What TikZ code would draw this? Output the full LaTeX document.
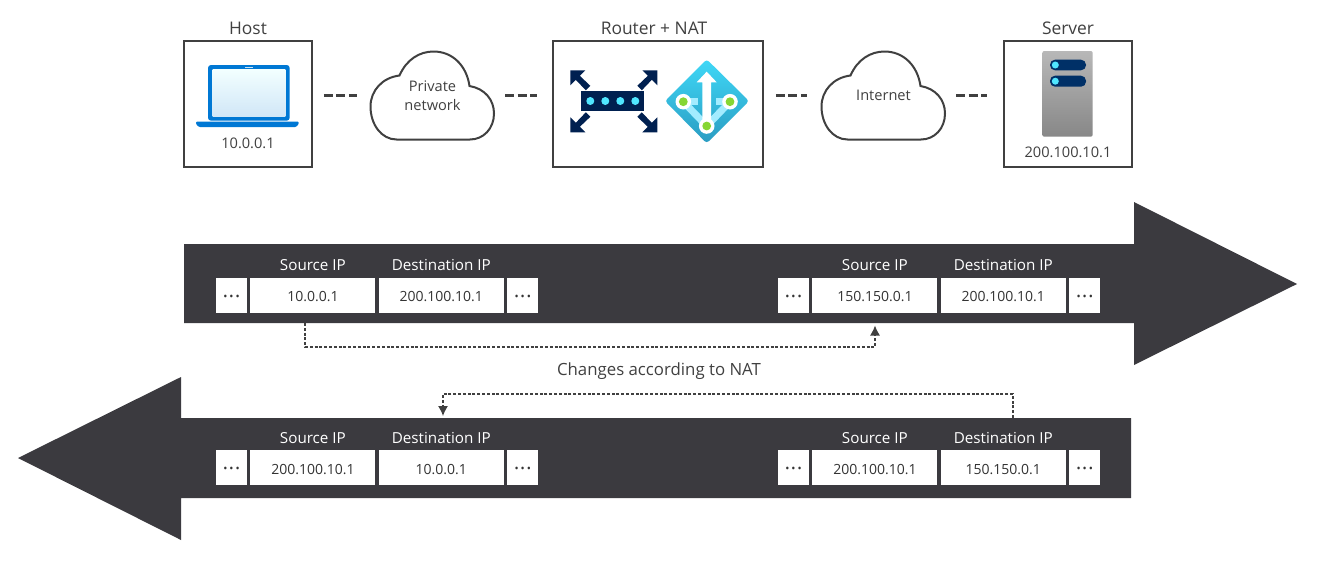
\documentclass[tikz,border=0pt]{standalone}
\usepackage{fontspec}
\setmainfont{Open Sans}
\usepackage{tikz}
\usetikzlibrary{positioning}
\usetikzlibrary{arrows.meta}

\definecolor{bandgrey}{HTML}{3B3A3F}
\definecolor{framegrey}{HTML}{404040}
\definecolor{laptopblue}{HTML}{0078D4}
\definecolor{routernavy}{HTML}{002050}
\definecolor{servernavy}{HTML}{003067}
\definecolor{portcyan}{HTML}{50E6FF}
\definecolor{natgreen}{HTML}{86D633}
\definecolor{natarm}{HTML}{A3ECFF}
\definecolor{nattop}{HTML}{3FD8F7}
\definecolor{natbottom}{HTML}{2A9CC2}

\tikzset{
    x=1pt, y=-1pt,
    every node/.style={font=\fontsize{14.6}{19}\selectfont, text=framegrey},
    device/.style={draw=framegrey, line width=1.6pt, fill=white, minimum height=126pt, inner sep=0pt},
    devicename/.style={font=\fontsize{17.4}{20}\selectfont},
    cloudspot/.style={minimum width=123pt, minimum height=88pt, inner sep=0pt, align=center},
    cell/.style={fill=white, minimum height=35pt, inner sep=0pt, text=black!80, text height=13pt, text depth=0pt, font=\fontsize{14}{19}\selectfont},
    ipcell/.style={cell, minimum width=125pt},
    dotcell/.style={cell, minimum width=31pt},
    fieldname/.style={text=white, font=\fontsize{15.2}{19}\selectfont},
    wire/.style={draw=framegrey, line width=3.5pt, dash pattern=on 9pt off 3.5pt},
    natpath/.style={draw=framegrey, line width=1.3pt, dash pattern=on 3pt off 1.8pt},
    cloudline/.pic={
        \draw[framegrey, line width=2pt, fill=white] (-33,-20) .. controls (-26,-36) and (-13,-44) .. (1,-44)
            .. controls (20,-44) and (34,-30) .. (37,-9.5)
            .. controls (52,-7) and (61.5,4) .. (61.5,18)
            .. controls (61.5,33) and (51,44) .. (37.5,44)
            -- (-36,44) .. controls (-51,44) and (-62,29) .. (-62,11)
            .. controls (-62,-5) and (-50,-18) .. (-33,-20) -- cycle;
    },
    cornerarrow/.pic={
        \fill[routernavy] (0,0) -- (15,0) -- (9.5,5.5) -- (20,15.5) -- (15.5,20) -- (5.5,9.5) -- (0,15) -- cycle;
    },
}
\newcommand{\celldots}{\raisebox{1.3pt}{\fontsize{11}{12}\selectfont •\hspace{2pt}•\hspace{2pt}•}}

\begin{document}
\begin{tikzpicture}
    \useasboundingbox (0,0) rectangle (1317,560);

    % top row
    \node(host) [device, minimum width=128pt] at (248,104) {};
    \node(router) [device, minimum width=210pt] at (658,104) {};
    \node(server) [device, minimum width=128pt] at (1068,104) {};
    \node(hostname) [devicename] at (248,28) {Host};
    \node(routername) [devicename] at (654,28) {Router + NAT};
    \node(servername) [devicename] at (1068,28) {Server};

    \pic at (432.5,95.5) {cloudline};
    \pic at (883.5,95.5) {cloudline};
    \node(privatenet) [cloudspot] at (432.5,95.5) {Private\\network};
    \node(internet) [cloudspot] at (883.5,95.5) {Internet};

    \draw[wire, shorten <=11pt, shorten >=14pt] (host.east |- privatenet) -- (privatenet.west);
    \draw[wire, shorten <=11pt, shorten >=15pt] (privatenet.east) -- (router.west |- privatenet);
    \draw[wire, shorten <=12pt, shorten >=15pt] (router.east |- internet) -- (internet.west);
    \draw[wire, shorten <=11pt, shorten >=16pt] (internet.east) -- (server.west |- internet);

    % laptop
    \fill[laptopblue, rounded corners=3pt] (208,65) rectangle (289.7,120.7);
    \shade[top color=cyan!5, bottom color=laptopblue!18] (212.7,69.3) rectangle (285.3,116);
    \fill[laptopblue!20] (245,66.8) rectangle (252.7,67.8);
    \fill[laptopblue, rounded corners=1pt] (196,121.7) -- (298.7,121.7) -- (298.7,124) -- (296,127) -- (199,127) -- (196,124) -- cycle;
    \node(hostip) at (248,143) {10.0.0.1};

    % switch
    \fill[routernavy] (581.3,91.3) rectangle (644.3,111);
    \foreach \px in {590.3,605.3,620.3,635.3}
        \fill[portcyan] (\px,101) circle (4);
    \pic at (570.3,70.3) {cornerarrow};
    \pic[xscale=-1] at (657.3,70.3) {cornerarrow};
    \pic[yscale=-1] at (570.3,132.3) {cornerarrow};
    \pic[xscale=-1, yscale=-1] at (657.3,132.3) {cornerarrow};

    % nat
    \shade[top color=nattop, bottom color=natbottom, rounded corners=3pt]
        (665,101) -- (706.7,59.3) -- (749,101) -- (706.7,143.3) -- cycle;
    \draw[natarm, line width=7pt] (683.3,101.7) -- (706.7,126) -- (730,101.7);
    \draw[natarm, line width=7pt] (683.3,101.7) -- (698,101.7) (716,101.7) -- (730,101.7);
    \fill[white] (702.4,126) -- (702.4,82.3) -- (696.7,82.3) -- (706.7,71.7) -- (716.7,82.3) -- (711,82.3) -- (711,126) -- cycle;
    \foreach \px/\py in {683.3/101.7,730/101.7,706.7/126} {
        \fill[white] (\px,\py) circle (7.8);
        \fill[natgreen] (\px,\py) circle (4.4);
    }

    % server
    \shade[top color=black!28, bottom color=black!47, rounded corners=2pt] (1042.3,51) rectangle (1092.7,136.7);
    \fill[servernavy, rounded corners=5pt] (1050,59.7) rectangle (1086,70.3);
    \fill[servernavy, rounded corners=5pt] (1050,75.7) rectangle (1086,86.7);
    \fill[portcyan] (1055.3,65) circle (3.5);
    \fill[portcyan] (1055.3,81.2) circle (3.5);
    \node(serverip) at (1068,152) {200.100.10.1};

    % packets
    \fill[bandgrey] (184,244) -- (1134,244) -- (1134,202) -- (1297,284) -- (1134,365) -- (1134,323) -- (184,323) -- cycle;
    \fill[bandgrey] (1131,418) -- (181,418) -- (181,377) -- (18,458) -- (181,540) -- (181,498) -- (1131,498) -- cycle;

    \node(dotsa) [dotcell] at (231.5,295) {\celldots};
    \node(srca) [ipcell, right=3pt of dotsa] {10.0.0.1};
    \node(dsta) [ipcell, right=3pt of srca] {200.100.10.1};
    \node(endsa) [dotcell, right=3pt of dsta] {\celldots};
    \node(srcnamea) [fieldname, above=3pt of srca] {Source IP};
    \node(dstnamea) [fieldname, above=3pt of dsta] {Destination IP};

    \node(dotsb) [dotcell] at (793.5,295) {\celldots};
    \node(srcb) [ipcell, right=3pt of dotsb] {150.150.0.1};
    \node(dstb) [ipcell, right=3pt of srcb] {200.100.10.1};
    \node(endsb) [dotcell, right=3pt of dstb] {\celldots};
    \node(srcnameb) [fieldname, above=3pt of srcb] {Source IP};
    \node(dstnameb) [fieldname, above=3pt of dstb] {Destination IP};

    \node(dotsc) [dotcell] at (231.5,467.5) {\celldots};
    \node(srcc) [ipcell, right=3pt of dotsc] {200.100.10.1};
    \node(dstc) [ipcell, right=3pt of srcc] {10.0.0.1};
    \node(endsc) [dotcell, right=3pt of dstc] {\celldots};
    \node(srcnamec) [fieldname, above=3pt of srcc] {Source IP};
    \node(dstnamec) [fieldname, above=3pt of dstc] {Destination IP};

    \node(dotsd) [dotcell] at (793.5,467.5) {\celldots};
    \node(srcd) [ipcell, right=3pt of dotsd] {200.100.10.1};
    \node(dstd) [ipcell, right=3pt of srcd] {150.150.0.1};
    \node(endsd) [dotcell, right=3pt of dstd] {\celldots};
    \node(srcnamed) [fieldname, above=3pt of srcd] {Source IP};
    \node(dstnamed) [fieldname, above=3pt of dstd] {Destination IP};

    % nat changes
    \coordinate(outstart) at (305,323);
    \coordinate(outend) at (875,325.5);
    \coordinate(backstart) at (1013,418);
    \coordinate(backend) at (443,416);
    \node(changes) [font=\fontsize{16.8}{20}\selectfont] at (659,371) {Changes according to NAT};
    \draw[natpath, -{Latex[length=10pt, width=10pt]}] (outstart) -- ++(0,24) -| (outend);
    \draw[natpath, -{Latex[length=10pt, width=10pt]}] (backstart) -- ++(0,-24) -| (backend);
\end{tikzpicture}
\end{document}
